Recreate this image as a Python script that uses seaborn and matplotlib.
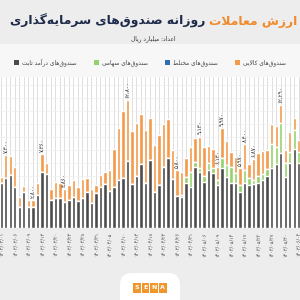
import numpy as np
import pandas as pd
import matplotlib
matplotlib.use("Agg")
import matplotlib.pyplot as plt
import seaborn as sns
from matplotlib.patches import Patch, Rectangle, FancyBboxPatch

################ DATA (billion rial) ################

fixed_income = [4470, 4970, 5300, 4130, 2130, 3630, 2130, 2130, 3300, 5630,
                5400, 2800, 2970, 2970, 2630, 2800, 3130, 2700, 2970, 3630,
                2530, 3470, 4130, 4370, 3730, 4130, 4800, 4970, 6730, 4370,
                5200, 6370, 4470, 6800, 3630, 4300, 6130, 6970, 4870, 3200,
                3130, 4470, 4130, 6130, 5630, 4630, 5800, 5470, 4300, 5970,
                5130, 4530, 4470, 3630, 4530, 4300, 4370, 4470, 4800, 5200,
                5970, 6370, 7530, 5130, 6530, 7870, 6470]

equity = [0, 0, 0, 0, 0, 0, 0, 0, 0, 0,
          0, 0, 0, 0, 0, 0, 0, 0, 0, 0,
          0, 0, 0, 0, 0, 0, 0, 0, 0, 0,
          0, 0, 0, 0, 0, 0, 0, 0, 0, 0,
          170, 600, 1500, 500, 330, 570, 670, 500, 500, 1000,
          1170, 1600, 1070, 670, 1270, 670, 430, 730, 600, 670,
          2430, 1770, 2930, 1330, 1100, 1930, 1170]

mixed = [0, 0, 0, 0, 0, 0, 0, 0, 0, 0,
         0, 0, 0, 0, 0, 0, 0, 0, 0, 0,
         0, 0, 0, 0, 0, 0, 0, 0, 0, 0,
         0, 0, 0, 0, 0, 0, 0, 0, 0, 0,
         0, 0, 0, 0, 0, 0, 0, 0, 0, 0,
         0, 0, 0, 0, 0, 0, 0, 0, 0, 0,
         0, 0, 0, 0, 0, 0, 0]

commodity = [670, 2330, 1900, 1930, 1000, 570, 670, 670, 1170, 1730,
             1070, 1070, 1670, 1570, 1230, 1500, 1670, 1430, 1900, 1400,
             1370, 830, 1170, 1270, 2070, 3730, 5230, 6770, 6070, 5330,
             5270, 5030, 5330, 4230, 4670, 5000, 4230, 3900, 2930, 2600,
             2330, 1900, 2430, 2330, 3170, 2870, 1730, 1930, 1330, 3000,
             2400, 1500, 1530, 1670, 2600, 1400, 2070, 2270, 2300, 1930,
             2000, 2070, 1830, 1330, 2000, 1230, 1170]

# bars carrying a total label
labelled_bars = [1, 7, 9, 14, 28, 39, 44, 48, 49, 53, 54, 56, 62]

# date labels, one every third bar
date_labels = ["۱۴۰۳/۰۳/۰۱", "۱۴۰۳/۰۳/۰۶", "۱۴۰۳/۰۳/۰۹", "۱۴۰۳/۰۳/۱۳",
               "۱۴۰۳/۰۳/۲۰", "۱۴۰۳/۰۳/۲۳", "۱۴۰۳/۰۳/۲۸", "۱۴۰۳/۰۳/۳۱",
               "۱۴۰۳/۰۴/۰۵", "۱۴۰۳/۰۴/۱۰", "۱۴۰۳/۰۴/۱۳", "۱۴۰۳/۰۴/۱۸",
               "۱۴۰۳/۰۴/۲۳", "۱۴۰۳/۰۴/۲۶", "۱۴۰۳/۰۴/۳۱", "۱۴۰۳/۰۵/۰۶",
               "۱۴۰۳/۰۵/۰۹", "۱۴۰۳/۰۵/۱۴", "۱۴۰۳/۰۵/۱۷", "۱۴۰۳/۰۵/۲۲",
               "۱۴۰۳/۰۵/۲۷", "۱۴۰۳/۰۵/۳۰", "۱۴۰۳/۰۶/۰۴"]

series_names = ["صندوق‌های درآمد ثابت", "صندوق‌های سهامی",
                "صندوق‌های مختلط", "صندوق‌های کالایی"]
series_colors = ["#4b4b4d", "#93d16c", "#2f6fad", "#f39a4b"]

title_orange = "ارزش معاملات"
title_dark = "روزانه صندوق‌های سرمایه‌گذاری"
subtitle = "اعداد: میلیارد ریال"

################ SIMPLE ARABIC/PERSIAN SHAPING ################

FORMS = {
    'ا': ('\uFE8D', '\uFE8E'), 'آ': ('\uFE81', '\uFE82'),
    'د': ('\uFEA9', '\uFEAA'), 'ذ': ('\uFEAB', '\uFEAC'),
    'ر': ('\uFEAD', '\uFEAE'), 'ز': ('\uFEAF', '\uFEB0'),
    'و': ('\uFEED', '\uFEEE'),
    'ب': ('\uFE8F', '\uFE90', '\uFE91', '\uFE92'),
    'ت': ('\uFE95', '\uFE96', '\uFE97', '\uFE98'),
    'ث': ('\uFE99', '\uFE9A', '\uFE9B', '\uFE9C'),
    'خ': ('\uFEA5', '\uFEA6', '\uFEA7', '\uFEA8'),
    'س': ('\uFEB1', '\uFEB2', '\uFEB3', '\uFEB4'),
    'ش': ('\uFEB5', '\uFEB6', '\uFEB7', '\uFEB8'),
    'ص': ('\uFEB9', '\uFEBA', '\uFEBB', '\uFEBC'),
    'ط': ('\uFEC1', '\uFEC2', '\uFEC3', '\uFEC4'),
    'ع': ('\uFEC9', '\uFECA', '\uFECB', '\uFECC'),
    'ق': ('\uFED5', '\uFED6', '\uFED7', '\uFED8'),
    'ل': ('\uFEDD', '\uFEDE', '\uFEDF', '\uFEE0'),
    'م': ('\uFEE1', '\uFEE2', '\uFEE3', '\uFEE4'),
    'ن': ('\uFEE5', '\uFEE6', '\uFEE7', '\uFEE8'),
    'ه': ('\uFEE9', '\uFEEA', '\uFEEB', '\uFEEC'),
    'ی': ('\uFBFC', '\uFBFD', '\uFBFE', '\uFBFF'),
    'ک': ('\uFB8E', '\uFB8F', '\uFB90', '\uFB91'),
    'گ': ('\uFB92', '\uFB93', '\uFB94', '\uFB95'),
}
LAM_ALEF = {'ا': ('\uFEFB', '\uFEFC'), 'آ': ('\uFEF5', '\uFEF6')}


def shape(text):
    out = []
    i = 0
    n = len(text)
    while i < n:
        c = text[i]
        if c not in FORMS:
            if c != '\u200c':
                out.append(c)
            i += 1
            continue
        prev = text[i - 1] if i > 0 else ''
        p = prev in FORMS and len(FORMS[prev]) == 4
        if c == 'ل' and i + 1 < n and text[i + 1] in LAM_ALEF:
            lig = LAM_ALEF[text[i + 1]]
            out.append(lig[1] if p else lig[0])
            i += 2
            continue
        f = FORMS[c]
        nxt = text[i + 1] if i + 1 < n else ''
        q = len(f) == 4 and nxt in FORMS
        if p and q:
            out.append(f[3])
        elif p:
            out.append(f[1])
        elif q:
            out.append(f[2])
        else:
            out.append(f[0])
        i += 1
    return ''.join(reversed(out))


FA_DIGITS = str.maketrans("0123456789", "۰۱۲۳۴۵۶۷۸۹")

################ FRAME ################

df = pd.DataFrame({"day": range(len(fixed_income)),
                   "fixed": fixed_income, "equity": equity,
                   "mixed": mixed, "commodity": commodity})
df["c1"] = df["fixed"]
df["c2"] = df["c1"] + df["equity"]
df["c3"] = df["c2"] + df["mixed"]
df["c4"] = df["c3"] + df["commodity"]

sns.set_theme(style="white")
plt.rcParams["font.family"] = ["DejaVu Sans"]

fig = plt.figure(figsize=(3, 3), dpi=100, facecolor="#ededed")

# lighter band behind the legend
fig.patches.append(Rectangle((0, 0.745), 1, 0.11, transform=fig.transFigure,
                             facecolor="#f7f7f7", edgecolor="none", zorder=0))

ax = fig.add_axes([0, 0.24, 1, 0.503])
ax.set_facecolor("white")

for col, colr in zip(["c4", "c3", "c2", "c1"], series_colors[::-1]):
    sns.barplot(data=df, x="day", y=col, color=colr, saturation=1,
                width=0.72, ax=ax, zorder=3)

ax.set_xlim(-0.3, len(df) - 0.7)
ax.set_ylim(0, 15100)
ax.set_yticks(np.arange(0, 15100, 1300))
ax.set_yticklabels([])
ax.set_ylabel("")
ax.set_xlabel("")

ax.set_xticks(df["day"])
ax.set_xticklabels([date_labels[i // 3] if i % 3 == 0 else "" for i in df["day"]],
                   rotation=90, fontsize=3.6, color="#555555")
ax.tick_params(axis="both", length=0, pad=3)
ax.grid(axis="x", color="#d9d9d9", linewidth=0.6, zorder=0)
ax.grid(axis="y", color="#eeeeee", linewidth=0.5, zorder=0)
ax.set_axisbelow(True)
for s in ax.spines.values():
    s.set_visible(False)

# totals above selected bars
for i in labelled_bars:
    tot = df.loc[i, "c4"]
    ax.text(i, tot + 250, f"{int(tot):,}".translate(FA_DIGITS), rotation=90,
            ha="center", va="bottom", fontsize=4, color="#333333", zorder=5)

################ TITLES / LEGEND ################

t_or = fig.text(0.99, 0.93, shape(title_orange), ha="right", va="center",
                fontsize=8.9, fontweight="bold", color="#f08a2c")
fig.canvas.draw()
left_px = t_or.get_window_extent().x0
fig.text(left_px / fig.bbox.width - 0.012, 0.93, shape(title_dark), ha="right",
         va="center", fontsize=8.9, fontweight="bold", color="#1d2a4a")
fig.text(0.51, 0.872, shape(subtitle), ha="center", va="center",
         fontsize=4.2, color="#333333")

handles = [Patch(facecolor=c, edgecolor="none") for c in series_colors]
fig.legend(handles, [shape(s) for s in series_names], ncol=4, loc="center",
           bbox_to_anchor=(0.5, 0.793), frameon=False, fontsize=4.2,
           handlelength=0.9, handleheight=0.9, handletextpad=0.4,
           columnspacing=3.0, labelcolor="#444444")

################ LOGO ################

fig.patches.append(FancyBboxPatch((0.40, -0.05), 0.20, 0.14,
                                  boxstyle="round,pad=0,rounding_size=0.04",
                                  transform=fig.transFigure, facecolor="white",
                                  edgecolor="none", zorder=1))
for k, letter in enumerate("SENA"):
    x0 = 0.443 + k * 0.029
    fig.patches.append(Rectangle((x0, 0.025), 0.026, 0.033, transform=fig.transFigure,
                                 facecolor="#f0962f", edgecolor="none", zorder=2))
    fig.text(x0 + 0.013, 0.0415, letter, ha="center", va="center",
             fontsize=4.5, fontweight="bold", color="white", zorder=3)

fig.savefig("out.png", dpi=100, facecolor=fig.get_facecolor())
